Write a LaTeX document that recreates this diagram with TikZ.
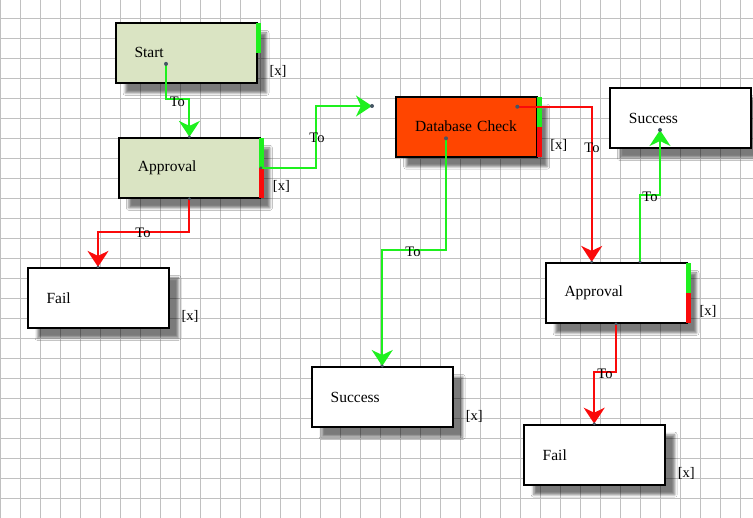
\documentclass[tikz,border=0pt]{standalone}
\usepackage{fontspec}
\setmainfont{Liberation Serif}
\usetikzlibrary{arrows.meta,shadows.blur,calc}
\definecolor{gridc}{RGB}{192,192,192}
\definecolor{boxgreen}{RGB}{218,228,195}
\definecolor{dbred}{RGB}{255,69,0}
\definecolor{lgreen}{RGB}{30,240,30}
\definecolor{lred}{RGB}{250,10,10}
\definecolor{dotc}{RGB}{70,85,100}
\newcommand\twobars[1]{%
  \fill[lgreen] ($(#1.north east)+(-1.5,1)$) rectangle ($(#1.east)+(3.5,0)$);
  \fill[lred] ($(#1.east)+(-1.5,0)$) rectangle ($(#1.south east)+(3.5,-1)$);}
\newcommand\xmark[1]{\node[xlab] at ($(#1.south east)+(20.5,-12)$) {[x]};}
\begin{document}
\begin{tikzpicture}[x=1pt,y=-1pt,
  box/.style={draw=black,line width=2pt,minimum width=141pt,minimum height=60pt,
    text width=103pt,inner xsep=19pt,align=left,font=\fontsize{15.5}{18}\selectfont,
    blur shadow={shadow xshift=10pt,shadow yshift=-10pt,shadow blur radius=2.5pt,shadow opacity=52}},
  tip/.style={-{Stealth[length=16pt,width=21pt,inset=5pt]}},
  gline/.style={draw=lgreen,line width=2pt,tip},
  rline/.style={draw=lred,line width=2pt,tip},
  lab/.style={font=\fontsize{14.5}{16}\selectfont,inner sep=0pt},
  xlab/.style={font=\fontsize{14.5}{16}\selectfont,inner sep=0pt},
  dot/.style={fill=dotc}
]
\useasboundingbox (0,0) rectangle (753,518);
\fill[white] (0,0) rectangle (753,518);
% grid: 20px squares, vertical lines at x=0,20,..., horizontal at y=18,38,...
\begin{scope}[shift={(0.5,18.5)}]
  \draw[gridc,line width=1pt,xstep=20pt,ystep=20pt] (-0.5,-18.5) grid (752.5,499.5);
\end{scope}
% boxes
\node[box,fill=boxgreen] (start) at (186,52.9) {Start};
\node[box,fill=boxgreen] (appr1) at (189.4,167.9) {Approval};
\node[box,fill=white] (fail1) at (98,297.9) {Fail};
\node[box,fill=dbred] (db) at (466.7,126.7) {Database Check};
\node[box,fill=white] (succ1) at (680.4,118) {Success};
\node[box,fill=white] (succ2) at (382.2,397) {Success};
\node[box,fill=white] (appr2) at (616,292.9) {Approval};
\node[box,fill=white] (fail2) at (594.2,454.7) {Fail};
% side bars
\fill[lgreen] ($(start.north east)+(-1.5,1)$) rectangle ($(start.east)+(3.5,0)$);
\twobars{appr1}
\twobars{db}
\twobars{appr2}
% [x] marks
\xmark{start}
\xmark{appr1}
\xmark{fail1}
\xmark{db}
\xmark{succ2}
\xmark{appr2}
\xmark{fail2}
% connector end points
\coordinate (sd) at ($(start.center)+(-20,11)$);
\coordinate (free) at (372,106);
\coordinate (dbd) at ($(db.center)+(50.6,-20)$);
\coordinate (dbd2) at ($(db.center)+(-20.7,11.6)$);
\coordinate (s1d) at ($(succ1.center)+(-20.4,12)$);
\coordinate (a2t) at ($(appr2.north)+(24,0)$);
\coordinate (a2r) at ($(appr2.north)+(-24.3,0)$);
% connectors
\draw[gline] (sd) |- ($(appr1.north)+(0,-38)$) -- (appr1.north);
\draw[gline] (appr1.east) -| (316,106) -- (free);
\draw[rline] (appr1.south) |- ($(fail1.north)+(0,-35)$) -- (fail1.north);
\draw[rline] (dbd) -| (a2r);
\draw[gline] (dbd2) |- ($(succ2.north)+(0,-115.7)$) -- (succ2.north);
\draw[gline] (a2t) |- (660,195) -- (s1d);
\draw[rline] (appr2.south) |- ($(fail2.north)+(0,-51.3)$) -- (fail2.north);
% dots
\foreach \p in {sd,free,dbd,dbd2,s1d}
  \fill[dot] (\p) circle (2pt);
\foreach \p in {appr1.north,appr1.east,appr1.south,fail1.north,succ2.north,a2t,a2r,appr2.south,fail2.north}
  \fill[dot] (\p) circle (1.6pt);
% labels
\node[lab] at (177.3,101.7) {To};
\node[lab] at (317,138) {To};
\node[lab] at (143,233) {To};
\node[lab] at (592,147.7) {To};
\node[lab] at (413,251.5) {To};
\node[lab] at (650,196.7) {To};
\node[lab] at (605,373.5) {To};
\end{tikzpicture}
\end{document}
